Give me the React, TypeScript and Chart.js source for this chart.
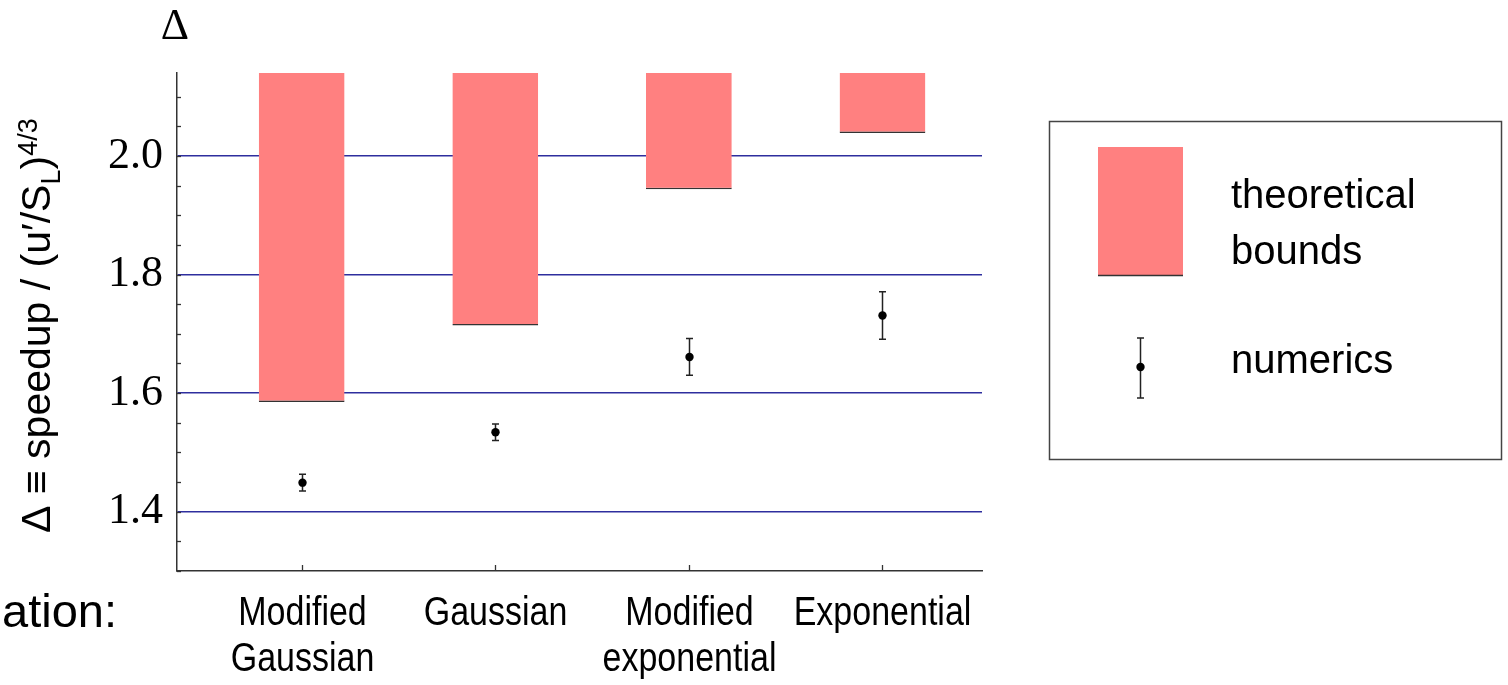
import React, { useEffect, useRef } from 'react';
import { Chart, registerables } from 'chart.js';

Chart.register(...registerables);

// ---------- data ----------
const categories: (string | string[])[] = [
  ['Modified', 'Gaussian'],
  'Gaussian',
  ['Modified', 'exponential'],
  'Exponential',
];
const boundLower = [1.585, 1.714, 1.944, 2.039];
const boundUpper = [2.14, 2.14, 2.14, 2.14];
const numericMean = [1.449, 1.534, 1.661, 1.731];
const numericError = [0.014, 0.014, 0.031, 0.04];
const yMajorTicks = [1.4, 1.6, 1.8, 2.0];
const yMinorStep = 0.05;
const yMin = 1.3;
const yMax = 2.14;
const xMin = 0.356;
const xMax = 4.514;
const legendBoundsLines = ['theoretical', 'bounds'];
const legendNumericsLabel = 'numerics';
const yTitleParts = { main: 'Δ ≡ speedup / (u′/S', sub: 'L', close: ')', sup: '4/3' };
const cornerSymbol = 'Δ';
const cutOffLabel = 'ation:';

// ---------- styles ----------
const BAR_COLOR = '#FF8080';
const EDGE_COLOR = '#333333';
const GRID_COLOR = '#2E2E9E';
const SANS = '"Liberation Sans", Arial, sans-serif';
const SERIF = '"Liberation Serif", "Times New Roman", serif';
const X_LABEL_SIZE = 40;
const X_LABEL_SQUEEZE = 0.85;
const X_LABEL_LINE = 46;
const X_LABEL_FIRST_BASELINE_OFFSET = 54; // below axis

const drawErrorBar = (ctx: CanvasRenderingContext2D, x: number, yTop: number, yBot: number, yMid: number, cap: number) => {
  ctx.beginPath();
  ctx.moveTo(x, yTop);
  ctx.lineTo(x, yBot);
  ctx.moveTo(x - cap, yTop);
  ctx.lineTo(x + cap, yTop);
  ctx.moveTo(x - cap, yBot);
  ctx.lineTo(x + cap, yBot);
  ctx.stroke();
  ctx.beginPath();
  ctx.arc(x, yMid, 4.2, 0, Math.PI * 2);
  ctx.fill();
};

const overlayPlugin = {
  id: 'overlay',
  afterDatasetsDraw(chart: any) {
    const { ctx, scales } = chart;
    const xs = scales.x;
    const ys = scales.y;
    ctx.save();
    ctx.strokeStyle = '#222';
    ctx.fillStyle = '#000';
    ctx.lineWidth = 1.5;
    numericMean.forEach((m, i) => {
      const px = Math.round(xs.getPixelForValue(i + 1)) + 0.5;
      const top = ys.getPixelForValue(m + numericError[i]);
      const bot = ys.getPixelForValue(m - numericError[i]);
      drawErrorBar(ctx, px, top, bot, ys.getPixelForValue(m), 3.5);
    });
    ctx.restore();
  },
  afterDraw(chart: any) {
    const { ctx, chartArea, scales } = chart;
    const xs = scales.x;
    const ys = scales.y;
    ctx.save();
    // minor inward ticks on y axis
    ctx.strokeStyle = EDGE_COLOR;
    ctx.lineWidth = 1.3;
    const kStart = Math.ceil(yMin / yMinorStep - 1e-9);
    for (let k = kStart; k * yMinorStep <= yMax + 1e-9; k++) {
      const py = Math.round(ys.getPixelForValue(k * yMinorStep)) + 0.5;
      ctx.beginPath();
      ctx.moveTo(chartArea.left, py);
      ctx.lineTo(chartArea.left + 4, py);
      ctx.stroke();
    }
    // inward ticks on x axis + condensed category labels
    ctx.fillStyle = '#000';
    ctx.font = `${X_LABEL_SIZE}px ${SANS}`;
    ctx.textAlign = 'center';
    ctx.textBaseline = 'alphabetic';
    categories.forEach((cat, i) => {
      const px = Math.round(xs.getPixelForValue(i + 1)) + 0.5;
      ctx.beginPath();
      ctx.moveTo(px, chartArea.bottom);
      ctx.lineTo(px, chartArea.bottom - 6);
      ctx.stroke();
      const lines = Array.isArray(cat) ? cat : [cat];
      lines.forEach((line, li) => {
        ctx.save();
        ctx.translate(px, chartArea.bottom + X_LABEL_FIRST_BASELINE_OFFSET + li * X_LABEL_LINE);
        ctx.scale(X_LABEL_SQUEEZE, 1);
        ctx.fillText(line, 0, 0);
        ctx.restore();
      });
    });

    // corner symbol
    ctx.font = `44px ${SERIF}`;
    ctx.textAlign = 'center';
    ctx.fillText(cornerSymbol, chartArea.left - 2, 39);

    // cut-off label at bottom left
    ctx.font = `47px ${SANS}`;
    ctx.textAlign = 'left';
    ctx.fillText(cutOffLabel, 2, 627);

    // rotated y title with sub/superscripts
    ctx.save();
    ctx.translate(50, 533);
    ctx.rotate(-Math.PI / 2);
    ctx.textAlign = 'left';
    let cx = 0;
    ctx.font = `41px ${SANS}`;
    ctx.fillText(yTitleParts.main, cx, 0);
    cx += ctx.measureText(yTitleParts.main).width;
    ctx.font = `27px ${SANS}`;
    ctx.fillText(yTitleParts.sub, cx, 10);
    cx += ctx.measureText(yTitleParts.sub).width;
    ctx.font = `41px ${SANS}`;
    ctx.fillText(yTitleParts.close, cx, 0);
    cx += ctx.measureText(yTitleParts.close).width;
    ctx.font = `27px ${SANS}`;
    ctx.fillText(yTitleParts.sup, cx, -13);
    ctx.restore();

    // legend
    ctx.strokeStyle = '#444';
    ctx.lineWidth = 1.5;
    ctx.strokeRect(1049.5, 121.5, 452, 338);
    ctx.fillStyle = BAR_COLOR;
    ctx.fillRect(1098, 147, 85, 128);
    ctx.strokeStyle = EDGE_COLOR;
    ctx.beginPath();
    ctx.moveTo(1098, 275.5);
    ctx.lineTo(1183, 275.5);
    ctx.stroke();
    ctx.fillStyle = '#000';
    ctx.font = `40px ${SANS}`;
    ctx.fillText(legendBoundsLines[0], 1231, 208);
    ctx.fillText(legendBoundsLines[1], 1231, 264);
    ctx.fillText(legendNumericsLabel, 1231, 373);
    ctx.strokeStyle = '#222';
    ctx.lineWidth = 1.5;
    drawErrorBar(ctx, 1140.5, 338, 398, 367, 3.5);
    ctx.restore();
  },
};

export default function App() {
  const canvasRef = useRef<HTMLCanvasElement | null>(null);

  useEffect(() => {
    document.body.style.margin = '0';
    const canvas = canvasRef.current;
    if (!canvas) return;
    const chart = new Chart(canvas, {
      type: 'bar',
      data: {
        datasets: [
          {
            type: 'bar',
            label: legendBoundsLines.join(' '),
            data: boundLower.map((lo, i) => ({ x: i + 1, y: [lo, boundUpper[i]] })) as any,
            backgroundColor: BAR_COLOR,
            borderColor: EDGE_COLOR,
            borderWidth: { top: 0, left: 0, right: 0, bottom: 1.5 } as any,
            borderSkipped: false,
            barPercentage: 0.443,
            categoryPercentage: 1,
          },
          {
            type: 'scatter',
            label: legendNumericsLabel,
            data: numericMean.map((m, i) => ({ x: i + 1, y: m })) as any,
            pointRadius: 0,
            showLine: false,
          } as any,
        ],
      },
      options: {
        responsive: false,
        animation: false,
        events: [],
        layout: { padding: { left: 0, top: 73, right: 526, bottom: 0 } },
        plugins: { legend: { display: false }, tooltip: { enabled: false }, title: { display: false } },
        scales: {
          x: {
            type: 'linear',
            min: xMin,
            max: xMax,
            offset: false,
            afterBuildTicks: (scale: any) => {
              scale.ticks = categories.map((_, i) => ({ value: i + 1 }));
            },
            afterFit: (scale: any) => {
              scale.height = 114;
            },
            ticks: { display: false },
            grid: { display: false, drawTicks: false },
            border: { display: true, color: EDGE_COLOR, width: 1.5 },
          },
          y: {
            type: 'linear',
            min: yMin,
            max: yMax,
            afterBuildTicks: (scale: any) => {
              scale.ticks = yMajorTicks.map((v) => ({ value: v }));
            },
            afterFit: (scale: any) => {
              scale.width = 177;
            },
            ticks: {
              padding: 14,
              color: '#000',
              font: { family: SERIF, size: 44 },
              callback: (v: any) => Number(v).toFixed(1),
            },
            grid: { display: true, drawTicks: false, color: GRID_COLOR, lineWidth: 1.4 },
            border: { display: true, color: EDGE_COLOR, width: 1.5 },
          },
        },
      },
      plugins: [overlayPlugin],
    });
    return () => chart.destroy();
  }, []);

  return (
    <div style={{ position: 'absolute', left: 0, top: 0, width: 1508, height: 685, background: '#fff' }}>
      <canvas ref={canvasRef} width={1508} height={685} />
    </div>
  );
}
